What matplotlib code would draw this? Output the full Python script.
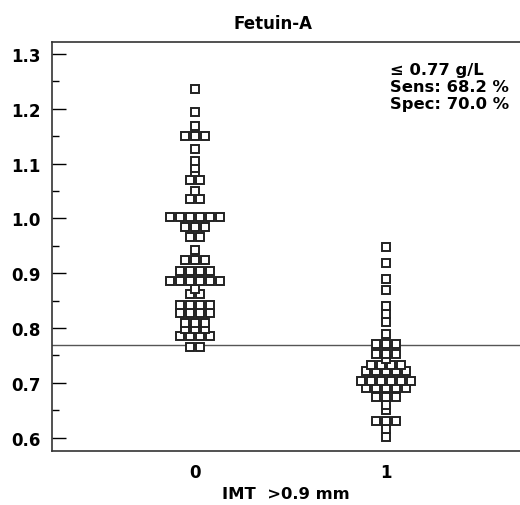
import numpy as np
import matplotlib
matplotlib.use("Agg")
import matplotlib.pyplot as plt

# Fetuin-A (g/L) by group, IMT > 0.9 mm (0 = no, 1 = yes)
group_labels = ["0", "1"]
fetuin_0 = [1.236, 1.194, 1.168, 1.150, 1.150, 1.150, 1.126, 1.105, 1.093, 1.085,
            1.070, 1.070, 1.050, 1.035, 1.035,
            1.003, 1.003, 1.003, 1.003, 1.003, 1.003,
            0.984, 0.984, 0.984, 0.966, 0.966, 0.942,
            0.924, 0.924, 0.924, 0.905, 0.905, 0.905, 0.905,
            0.886, 0.886, 0.886, 0.886, 0.886, 0.886,
            0.872, 0.862, 0.862, 0.843, 0.843, 0.843, 0.843,
            0.828, 0.828, 0.828, 0.828, 0.810, 0.810, 0.810,
            0.798, 0.798, 0.798, 0.785, 0.785, 0.785, 0.785, 0.765, 0.765]
fetuin_1 = [0.948, 0.918, 0.889, 0.869, 0.840, 0.825, 0.811, 0.789,
            0.771, 0.771, 0.771, 0.753, 0.753, 0.753, 0.744,
            0.733, 0.733, 0.733, 0.733, 0.722, 0.722, 0.722, 0.722, 0.722,
            0.703, 0.703, 0.703, 0.703, 0.703, 0.703,
            0.690, 0.690, 0.690, 0.690, 0.690, 0.675, 0.675, 0.675,
            0.660, 0.650, 0.631, 0.631, 0.631, 0.616, 0.602]
cutoff = 0.77
info_text = "≤ 0.77 g/L\nSens: 68.2 %\nSpec: 70.0 %"

plt.rcParams['font.family'] = ['DejaVu Sans']
fig = plt.figure(figsize=(5.2, 5.06), dpi=100)
ax = fig.add_axes([0.1, 0.107, 0.9, 0.808])

pitch = 0.052  # horizontal spacing between markers in a row
for pos, vals in enumerate([fetuin_0, fetuin_1]):
    uniq, counts = np.unique(vals, return_counts=True)
    for v, n in zip(uniq, counts):
        xs = pos + (np.arange(n) - (n - 1) / 2) * pitch
        ax.plot(xs, [v] * n, ls='none', marker='s', ms=5.8, mfc='white',
                mec='#222222', mew=1.4)

ax.axhline(cutoff, color='#555555', lw=1.0, zorder=0)
ax.text(1.02, 1.285, info_text, fontsize=11.8, fontweight='bold', va='top',
        ha='left', linespacing=1.15)

ax.set_xlim(-0.75, 1.70)
ax.set_ylim(0.576, 1.322)
ax.set_xticks([0, 1])
ax.set_xticklabels(group_labels)
ax.set_yticks(np.arange(0.6, 1.31, 0.1))
ax.set_yticks(np.arange(0.65, 1.3, 0.1), minor=True)
ax.yaxis.set_major_formatter(matplotlib.ticker.FormatStrFormatter('%.1f'))
ax.tick_params(axis='y', which='major', direction='in', length=10, width=1,
               labelsize=12, pad=8)
ax.tick_params(axis='y', which='minor', direction='in', length=5, width=1)
ax.tick_params(axis='x', length=0, labelsize=12, pad=9)
for lab in ax.get_xticklabels() + ax.get_yticklabels():
    lab.set_fontweight('bold')
ax.spines['right'].set_visible(False)
for s in ['left', 'top', 'bottom']:
    ax.spines[s].set_linewidth(1.2)
    ax.spines[s].set_color('#333333')

ax.set_title("Fetuin-A", fontsize=12, fontweight='bold', pad=10, x=0.472)
ax.set_xlabel("IMT  >0.9 mm", fontsize=11.8, fontweight='bold', labelpad=3)

fig.savefig("out.png", dpi=100)
